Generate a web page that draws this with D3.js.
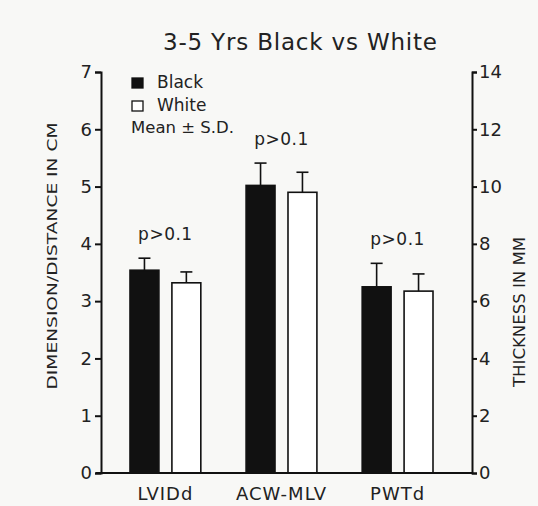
<!DOCTYPE html>
<html>
<head>
<meta charset="utf-8">
<script src="https://cdn.jsdelivr.net/npm/d3@7"></script>
<style>
  body { margin: 0; background: #f8f8f6; }
  svg { display: block; }
</style>
</head>
<body>
<div id="chart"></div>
<script>
// values (LVIDd, ACW-MLV in cm; PWTd in mm, right axis)
const categories = ["LVIDd", "ACW-MLV", "PWTd"];
const units = ["cm", "cm", "mm"];
const blackMean = [3.54, 5.02, 6.5];
const blackSD = [0.21, 0.39, 0.82];
const whiteMean = [3.32, 4.9, 6.35];
const whiteSD = [0.19, 0.35, 0.6];
const pLabels = ["p>0.1", "p>0.1", "p>0.1"];
const leftTicks = [0, 1, 2, 3, 4, 5, 6, 7];
const rightTicks = [0, 2, 4, 6, 8, 10, 12, 14];

const width = 538, height = 506;
const margin = { top: 72, right: 66, bottom: 33, left: 101 };
const font = "'DejaVu Sans', sans-serif";

const svg = d3.select("#chart")
  .append("svg")
  .attr("width", width)
  .attr("height", height)
  .attr("font-family", font);

const yCm = d3.scaleLinear()
  .domain([0, 7])
  .range([height - margin.bottom, margin.top]);
const yMm = d3.scaleLinear()
  .domain([0, 14])
  .range([height - margin.bottom, margin.top]);

const x = d3.scaleBand()
  .domain(categories)
  .range([130, 433])
  .paddingInner(0.39)
  .paddingOuter(0);
const sub = d3.scaleBand()
  .domain(["Black", "White"])
  .range([0, x.bandwidth()])
  .paddingInner(0.31);

const rows = [];
categories.forEach((c, i) => {
  const sc = units[i] === "mm" ? yMm : yCm;
  rows.push({ cat: c, grp: "Black", mean: blackMean[i], sd: blackSD[i], sc });
  rows.push({ cat: c, grp: "White", mean: whiteMean[i], sd: whiteSD[i], sc });
});

// bars
const bar = svg.selectAll("g.bar")
  .data(rows)
  .join("g")
  .attr("class", "bar")
  .attr("transform", d => `translate(${x(d.cat) + sub(d.grp)},0)`);

bar.append("rect")
  .attr("x", 0)
  .attr("y", d => d.sc(d.mean))
  .attr("width", sub.bandwidth())
  .attr("height", d => d.sc(0) - d.sc(d.mean))
  .attr("fill", d => d.grp === "Black" ? "#111" : "#fff")
  .attr("stroke", "#111")
  .attr("stroke-width", 1.6);

// error bars (upper half only)
bar.append("line")
  .attr("x1", sub.bandwidth() / 2)
  .attr("x2", sub.bandwidth() / 2)
  .attr("y1", d => d.sc(d.mean))
  .attr("y2", d => d.sc(d.mean + d.sd))
  .attr("stroke", "#111")
  .attr("stroke-width", 1.6);
bar.append("line")
  .attr("x1", sub.bandwidth() / 2 - 6)
  .attr("x2", sub.bandwidth() / 2 + 6)
  .attr("y1", d => d.sc(d.mean + d.sd))
  .attr("y2", d => d.sc(d.mean + d.sd))
  .attr("stroke", "#111")
  .attr("stroke-width", 1.6);

// p labels above each pair
svg.selectAll("text.pval")
  .data(categories)
  .join("text")
  .attr("class", "pval")
  .attr("x", d => x(d) + x.bandwidth() / 2)
  .attr("y", (d, i) => {
    const sc = units[i] === "mm" ? yMm : yCm;
    const top = Math.max(blackMean[i] + blackSD[i], whiteMean[i] + whiteSD[i]);
    return sc(top) - 18;
  })
  .attr("text-anchor", "middle")
  .attr("font-size", 17)
  .attr("letter-spacing", 0.5)
  .attr("fill", "#222")
  .text((d, i) => pLabels[i]);

// axes
const axisLeft = svg.append("g")
  .attr("transform", `translate(${margin.left},0)`)
  .call(d3.axisLeft(yCm).tickValues(leftTicks).tickSize(6).tickPadding(3).tickFormat(d3.format("d")));
const axisRight = svg.append("g")
  .attr("transform", `translate(${width - margin.right},0)`)
  .call(d3.axisRight(yMm).tickValues(rightTicks).tickSize(5).tickPadding(2).tickFormat(d3.format("d")));

[axisLeft, axisRight].forEach(g => {
  g.selectAll("path, line").attr("stroke", "#111").attr("stroke-width", 2);
  g.selectAll("text").attr("font-size", 18).attr("font-family", font).attr("fill", "#222");
});

// baseline
svg.append("line")
  .attr("x1", margin.left - 5)
  .attr("x2", width - margin.right)
  .attr("y1", yCm(0))
  .attr("y2", yCm(0))
  .attr("stroke", "#111")
  .attr("stroke-width", 2);

// category labels
svg.selectAll("text.cat")
  .data(categories)
  .join("text")
  .attr("class", "cat")
  .attr("x", d => x(d) + x.bandwidth() / 2)
  .attr("y", 500)
  .attr("text-anchor", "middle")
  .attr("font-size", 18)
  .attr("letter-spacing", 1)
  .attr("fill", "#222")
  .text(d => d);

// title
svg.append("text")
  .attr("x", 300)
  .attr("y", 50)
  .attr("text-anchor", "middle")
  .attr("font-size", 23)
  .attr("textLength", 274)
  .attr("lengthAdjust", "spacing")
  .attr("fill", "#222")
  .text("3-5 Yrs  Black vs White");

// axis titles
svg.append("text")
  .attr("transform", `translate(57,256) rotate(-90)`)
  .attr("text-anchor", "middle")
  .attr("font-size", 13.5)
  .attr("textLength", 267)
  .attr("lengthAdjust", "spacingAndGlyphs")
  .attr("fill", "#222")
  .text("DIMENSION/DISTANCE IN CM");
svg.append("text")
  .attr("transform", `translate(525,312) rotate(-90)`)
  .attr("text-anchor", "middle")
  .attr("font-size", 16)
  .attr("textLength", 150)
  .attr("lengthAdjust", "spacingAndGlyphs")
  .attr("fill", "#222")
  .text("THICKNESS IN MM");

// legend
const legendItems = ["Black", "White"];
const legend = svg.selectAll("g.legend")
  .data(legendItems)
  .join("g")
  .attr("class", "legend")
  .attr("transform", (d, i) => `translate(132,${78 + i * 23})`);
legend.append("rect")
  .attr("width", 11)
  .attr("height", 10)
  .attr("fill", d => d === "Black" ? "#111" : "#fff")
  .attr("stroke", "#111")
  .attr("stroke-width", 1.3);
legend.append("text")
  .attr("x", 25)
  .attr("y", 10)
  .attr("font-size", 17)
  .attr("fill", "#222")
  .text(d => d);
svg.append("text")
  .attr("x", 131)
  .attr("y", 133)
  .attr("font-size", 16.5)
  .attr("fill", "#222")
  .text("Mean ± S.D.");
</script>
</body>
</html>
